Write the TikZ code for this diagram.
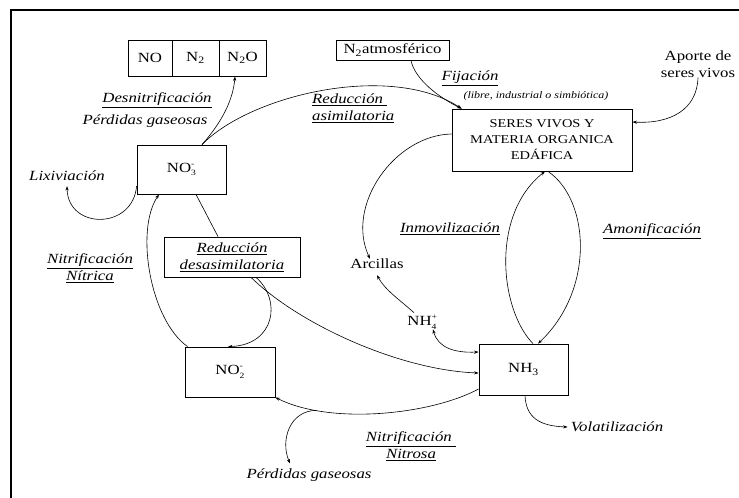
\documentclass[tikz,border=0pt]{standalone}
\usepackage{fontspec}
\setmainfont[FakeStretch=1.2]{Liberation Serif}
\usetikzlibrary{arrows.meta}

\newcommand\ionsub[2]{\rlap{\raisebox{0.95ex}{\fontsize{8}{8}\selectfont #2}}\raisebox{-0.55ex}{\fontsize{8}{8}\selectfont #1}}

\begin{document}
\begin{tikzpicture}[
            x = 1pt, y = -1pt, % coordinates in pixels of the page
            > = {Stealth[length=4.5pt,width=3.2pt]}, % arrow head style
            texto/.style = {font=\fontsize{14}{17}\selectfont, inner sep=0pt},
            etiqueta/.style = {font=\fontsize{14}{17}\selectfont\itshape, align=center, inner sep=0pt},
            caja/.style = {draw, line width=0.8pt, texto},
            flujo/.style = {->, line width=0.6pt}
        ]
	\useasboundingbox (0,0) rectangle (739,498);
	\draw[line width=1.6pt] (11,498) -- (11,10) -- (739,10);

	% boxes
	\node[caja, minimum width=44pt, minimum height=36pt] (NO) at (150,58) {NO};
	\node[caja, minimum width=47pt, minimum height=36pt] (Ndos) at (195.5,58) {N\textsubscript{2}};
	\node[caja, minimum width=47pt, minimum height=36pt] (NdosO) at (242.5,58) {N\textsubscript{2}O};
	\node[caja, minimum width=113pt, minimum height=20pt] (Natm) at (392.5,50) {N\textsubscript{2}atmosférico};
	\node[caja, minimum width=180pt, minimum height=62pt, align=center, font=\fontsize{12}{16}\selectfont] (seres) at (542,140) {SERES VIVOS Y\\MATERIA ORGANICA\\EDÁFICA};
	\node[caja, minimum width=89pt, minimum height=49pt] (NOtres) at (181.5,169.5) {NO\ionsub{3}{-}};
	\node[caja, etiqueta, minimum width=136pt, minimum height=40pt] (desasim) at (232,257) {\underline{Reducción}\\\underline{desasimilatoria}};
	\node[caja, minimum width=90pt, minimum height=50pt] (NOdos) at (230,372) {NO\ionsub{2}{-}};
	\node[caja, minimum width=89pt, minimum height=51pt] (NHtres) at (523.5,369.5) {NH\textsubscript{3}};

	% labels
	\node[etiqueta] (desnit) at (157,100) {\underline{Desnitrificación}};
	\node[etiqueta] (perdA) at (145,121) {Pérdidas gaseosas};
	\node[etiqueta, align=left, anchor=west] (redasim) at (312,108) {\underline{Reducción }\\\underline{asimilatoria}};
	\node[etiqueta] (lixiv) at (67,176) {Lixiviación};
	\node[etiqueta] (fij) at (470,78) {\underline{Fijación}};
	\node[etiqueta, font=\fontsize{10}{12}\selectfont\itshape] (tipos) at (536,96) {(libre, industrial o simbiótica)};
	\node[texto, align=center] (aporte) at (698,64) {Aporte de\\seres vivos};
	\node[etiqueta] (inmov) at (450,229) {\underline{Inmovilización}};
	\node[etiqueta] (amonif) at (652,231) {\underline{Amonificación}};
	\node[texto] (arcillas) at (377,264) {Arcillas};
	\node[texto] (NHcuatro) at (422,322) {NH\ionsub{4}{+}};
	\node[etiqueta] (nitrica) at (90,268) {\underline{Nitrificación}\\\underline{Nítrica}};
	\node[etiqueta] (nitrosa) at (411,446) {\underline{Nitrificación }\\\underline{Nitrosa}};
	\node[etiqueta] (perdB) at (309,475) {Pérdidas gaseosas};
	\node[etiqueta] (volat) at (617,427) {Volatilización};

	% connectors
	\draw[flujo] ([xshift=20.5pt]NOtres.north) .. controls (222,122) and (233,100) .. ([xshift=-7.5pt]NdosO.south);
	\draw[flujo] ([xshift=20.5pt]NOtres.north) .. controls (250,95) and (390,62) .. ([xshift=10pt]seres.north west);
	\draw[flujo] ([xshift=18.5pt]Natm.south) .. controls (415,80) and (440,98) .. ([xshift=10pt]seres.north west);
	\draw[flujo] (aporte.south) .. controls (697,110) and (670,124) .. ([yshift=18pt]seres.east);
	\draw[flujo] ([yshift=6pt]seres.west) .. controls (395,135) and (345,205) .. ([xshift=-7pt]arcillas.north);
	\draw[flujo] ([xshift=-8pt,yshift=2pt]NHcuatro.north) .. controls (400,300) and (385,290) .. ([yshift=-6pt]arcillas.south);
	\draw[flujo, <->] ([xshift=11pt]NHcuatro.south) .. controls (438,348) and (455,353) .. ([yshift=17.5pt]NHtres.west);
	\draw[flujo] ([xshift=19pt]desasim.south) .. controls (300,325) and (400,370) .. ([yshift=-3.5pt]NHtres.west);
	\draw[flujo] ([xshift=24pt]desasim.south) .. controls (282,300) and (275,345) .. ([xshift=-2pt]NOdos.north);
	\draw[line width=0.6pt] ([xshift=14.5pt]NOtres.south) -- ([xshift=-14pt]desasim.north);
	\draw[flujo] ([xshift=3pt]NOdos.north west) .. controls (150,320) and (135,230) .. ([xshift=-22.5pt]NOtres.south);
	\draw[flujo] ([yshift=-16.5pt]NOtres.west) .. controls (133,230) and (68,230) .. ([yshift=-5pt]lixiv.south);
	\draw[flujo] ([yshift=-19.5pt]NHtres.west) .. controls (430,415) and (330,425) .. coordinate[pos=0.78] (ramal) (NOdos.south east);
	\draw[flujo] (ramal) .. controls (290,410) and (280,440) .. ([xshift=-19pt,yshift=5pt]perdB.north);
	\draw[flujo] ([xshift=1.5pt]NHtres.south) .. controls (526,418) and (540,426) .. ([xshift=-3pt]volat.west);
	\draw[flujo] ([xshift=9.5pt]NHtres.north) .. controls (500,310) and (490,215) .. ([xshift=3pt]seres.south);
	\draw[flujo] ([xshift=6pt]seres.south) .. controls (590,200) and (595,290) .. ([xshift=14.5pt]NHtres.north);

\end{tikzpicture}
\end{document}
